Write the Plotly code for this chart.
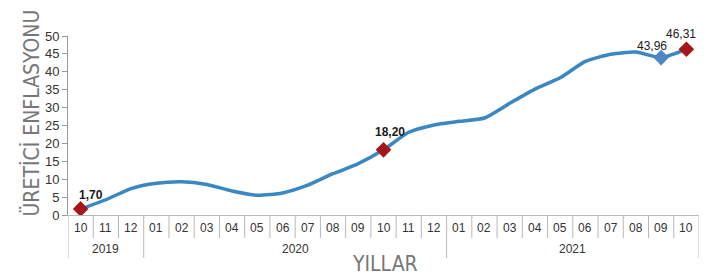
import plotly.graph_objects as go

months = ["10", "11", "12", "01", "02", "03", "04", "05", "06", "07", "08", "09",
          "10", "11", "12", "01", "02", "03", "04", "05", "06", "07", "08", "09", "10"]
years = ["2019"] * 3 + ["2020"] * 12 + ["2021"] * 10
values = [1.70, 4.26, 7.36, 8.84, 9.26, 8.50, 6.71, 5.53, 6.17, 8.33, 11.53, 14.33,
          18.20, 23.11, 25.15, 26.16, 27.09, 31.20, 35.17, 38.33, 42.89, 44.92, 45.52, 43.96, 46.31]
highlight_idx = [0, 12, 23, 24]
highlight_colors = ["#a5161b", "#a5161b", "#4f86c6", "#a5161b"]
label_text = ["1,70", "18,20", "43,96", "46,31"]
label_bold = [True, True, False, False]
label_dx = [10, 6, -9, -5]
label_dy = [-14, -18, -12, -15]

y_title = "ÜRETİCİ ENFLASYONU"
x_title = "YILLAR"

W, H = 707, 278
L, R, T, B = 68, 8, 36, 63
plot_h = H - T - B
plot_w = W - L - R


def py(pix):
    return (H - B - pix) / plot_h


def px(pix):
    return (pix - L) / plot_w


x = list(range(len(values)))
title_font = "DejaVu Sans Condensed, Roboto Condensed, Liberation Sans Narrow, Liberation Sans, sans-serif"
base_font = "Liberation Sans, Arial, sans-serif"

fig = go.Figure()
fig.add_trace(go.Scatter(
    x=x, y=values, mode="lines",
    line=dict(color="#3a87c2", width=3.5, shape="spline", smoothing=0.6),
    hoverinfo="skip", showlegend=False))
fig.add_trace(go.Scatter(
    x=[x[i] for i in highlight_idx], y=[values[i] for i in highlight_idx],
    mode="markers",
    marker=dict(symbol="diamond", size=12, color=highlight_colors, line=dict(width=0)),
    showlegend=False, hoverinfo="skip"))

annotations = []
for k, i in enumerate(highlight_idx):
    t = label_text[k]
    annotations.append(dict(
        x=x[i], y=values[i], xref="x", yref="y", text=("<b>%s</b>" % t) if label_bold[k] else t,
        showarrow=False, xshift=label_dx[k], yshift=-label_dy[k],
        font=dict(family=base_font, size=12, color="#1a1a1a")))

for i, m in enumerate(months):
    annotations.append(dict(x=x[i], y=py(228), xref="x", yref="paper", text=m,
                            showarrow=False, yanchor="middle",
                            font=dict(family=base_font, size=12, color="#333")))

shapes = []
groups = []
start = 0
for i in range(1, len(years) + 1):
    if i == len(years) or years[i] != years[start]:
        groups.append((years[start], start, i - 1))
        start = i
for yr, a, b in groups:
    annotations.append(dict(x=(a + b) / 2, y=py(249), xref="x", yref="paper", text=yr,
                            showarrow=False, yanchor="middle",
                            font=dict(family=base_font, size=12, color="#333")))

line_col = "#b8b8b8"
for i in range(len(values) - 1):
    boundary = years[i] != years[i + 1]
    shapes.append(dict(type="line", xref="x", yref="paper", x0=i + 0.5, x1=i + 0.5,
                       y0=0, y1=py(258) if boundary else py(238),
                       line=dict(color=line_col, width=1)))
shapes.append(dict(type="line", xref="x", yref="paper", x0=-0.5, x1=-0.5,
                   y0=0, y1=py(258), line=dict(color=line_col, width=1)))
shapes.append(dict(type="line", xref="x", yref="paper", x0=len(values) - 0.5, x1=len(values) - 0.5,
                   y0=0, y1=py(258), line=dict(color=line_col, width=1)))

annotations.append(dict(x=px(16), y=py(113), xref="paper", yref="paper", text=y_title,
                        showarrow=False, textangle=-90,
                        font=dict(family=title_font, size=21, color="#777777")))
annotations.append(dict(x=px(385), y=py(278), xref="paper", yref="paper", text=x_title,
                        showarrow=False, yanchor="bottom",
                        font=dict(family=title_font, size=21, color="#777777")))

fig.update_layout(
    template="none",
    width=W, height=H, margin=dict(l=L, r=R, t=T, b=B, autoexpand=False),
    paper_bgcolor="white", plot_bgcolor="white",
    annotations=annotations, shapes=shapes,
    xaxis=dict(range=[-0.5, len(values) - 0.5], showticklabels=False, ticks="",
               automargin=False,
               showgrid=False, zeroline=False, showline=True, linecolor=line_col, linewidth=1),
    yaxis=dict(range=[0, 50], dtick=5, ticks="outside", ticklen=5, tickcolor="#999",
               automargin=False,
               showgrid=False, zeroline=False, showline=True, linecolor="#999", linewidth=1,
               tickfont=dict(family=base_font, size=13, color="#333")),
)
fig.write_html("out.html", config={"displayModeBar": False},
               post_script="document.body.style.margin='0';document.body.style.overflow='hidden';")
